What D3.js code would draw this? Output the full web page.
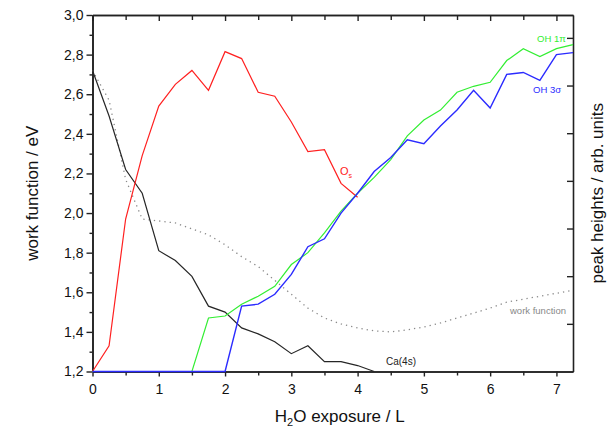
<!DOCTYPE html>
<html>
<head>
<meta charset="utf-8">
<script src="https://cdn.jsdelivr.net/npm/d3@7"></script>
<style>
  html, body { margin: 0; padding: 0; background: #fff; }
  svg { display: block; font-family: "Liberation Sans", Arial, sans-serif; }
</style>
</head>
<body>
<svg id="chart" width="616" height="427"></svg>
<script>
// H2O exposure (Langmuir), sampled every 0.25 L
const exposure = [0, 0.25, 0.5, 0.75, 1, 1.25, 1.5, 1.75, 2, 2.25, 2.5, 2.75, 3, 3.25, 3.5, 3.75,
                  4, 4.25, 4.5, 4.75, 5, 5.25, 5.5, 5.75, 6, 6.25, 6.5, 6.75, 7, 7.25];

// Work function (eV)
const workFunction = [2.72, 2.57, 2.17, 1.97, 1.96, 1.95, 1.92, 1.89, 1.84, 1.78, 1.73, 1.66, 1.59, 1.52, 1.47, 1.44,
                      1.42, 1.405, 1.40, 1.41, 1.425, 1.445, 1.47, 1.495, 1.52, 1.55, 1.565, 1.58, 1.595, 1.61];

// Peak heights, drawn on the same vertical range (baseline = 1.2)
const ca4s = [2.72, 2.49, 2.22, 2.10, 1.81, 1.76, 1.68, 1.53, 1.50, 1.42, 1.39, 1.35, 1.29, 1.33, 1.25, 1.25,
              1.23, 1.20];
const oxygenS = [1.20, 1.33, 1.97, 2.29, 2.54, 2.65, 2.72, 2.62, 2.815, 2.78, 2.61, 2.59, 2.46, 2.31, 2.32, 2.15,
                 2.08];
const oh1pi = [1.2, 1.2, 1.2, 1.2, 1.2, 1.2, 1.2, 1.47, 1.48, 1.54, 1.58, 1.63, 1.74, 1.80, 1.90, 2.01,
               2.10, 2.18, 2.27, 2.39, 2.47, 2.52, 2.61, 2.64, 2.66, 2.77, 2.83, 2.79, 2.83, 2.85];
const oh3sigma = [1.2, 1.2, 1.2, 1.2, 1.2, 1.2, 1.2, 1.2, 1.2, 1.53, 1.54, 1.59, 1.69, 1.83, 1.87, 2.00,
                  2.10, 2.21, 2.28, 2.37, 2.35, 2.44, 2.52, 2.62, 2.53, 2.70, 2.71, 2.67, 2.80, 2.81];

const xTicks = [0, 1, 2, 3, 4, 5, 6, 7];
const yTicks = [1.2, 1.4, 1.6, 1.8, 2.0, 2.2, 2.4, 2.6, 2.8, 3.0];
const rightTicks = [1, 2, 3, 4, 5, 6, 7];

const svg = d3.select("#chart");
const mLeft = 92.5, mRight = 573, mTop = 15, mBottom = 371.5;

const x = d3.scaleLinear().domain([0, 7.25]).range([mLeft, mRight]);
const y = d3.scaleLinear().domain([1.2, 3.0]).range([mBottom, mTop]);
const yRight = d3.scaleLinear().domain([0, 7.48]).range([mBottom, mTop]);

const comma = v => d3.format(".1f")(v).replace(".", ",");

function series(values) {
  return values.map((v, i) => [exposure[i], v]);
}
const line = d3.line().x(d => x(d[0])).y(d => y(d[1]));

// Axes (drawn first so the curves lying on the baseline stay visible)
function styleAxis(g) {
  g.select(".domain").attr("stroke", "#222").attr("stroke-width", 1.6);
  g.selectAll(".tick line").attr("stroke", "#222").attr("stroke-width", 1.4);
  g.selectAll(".tick text").attr("fill", "#111").attr("font-size", 14)
    .attr("font-family", "Liberation Sans, Arial, sans-serif");
}

const minorX = d3.range(0.5, 7.25, 1);
const minorY = d3.range(1.3, 3.0, 0.2);

// bottom
svg.append("g").attr("transform", `translate(0,${mBottom})`)
  .call(d3.axisBottom(x).tickValues(minorX).tickSize(4).tickFormat("").tickSizeOuter(0))
  .call(styleAxis);
svg.append("g").attr("transform", `translate(0,${mBottom})`)
  .call(d3.axisBottom(x).tickValues(xTicks).tickSize(5).tickPadding(8).tickFormat(d3.format("d")).tickSizeOuter(0))
  .call(styleAxis);
// top
svg.append("g").attr("transform", `translate(0,${mTop})`)
  .call(d3.axisTop(x).tickValues(minorX).tickSize(-5).tickFormat("").tickSizeOuter(0))
  .call(styleAxis);
svg.append("g").attr("transform", `translate(0,${mTop})`)
  .call(d3.axisTop(x).tickValues(xTicks).tickSize(-6).tickFormat("").tickSizeOuter(0))
  .call(styleAxis);
// left
svg.append("g").attr("transform", `translate(${mLeft},0)`)
  .call(d3.axisLeft(y).tickValues(minorY).tickSize(3).tickFormat("").tickSizeOuter(0))
  .call(styleAxis);
svg.append("g").attr("transform", `translate(${mLeft},0)`)
  .call(d3.axisLeft(y).tickValues(yTicks).tickSize(6).tickPadding(3).tickFormat(comma).tickSizeOuter(0))
  .call(styleAxis);
// right
svg.append("g").attr("transform", `translate(${mRight},0)`)
  .call(d3.axisRight(yRight).tickValues(rightTicks).tickSize(-6).tickFormat("").tickSizeOuter(0))
  .call(styleAxis);

// Curves
const plot = svg.append("g");
plot.append("path").datum(series(workFunction)).attr("d", line)
  .attr("fill", "none").attr("stroke", "#8a8a8a").attr("stroke-width", 1.3)
  .attr("stroke-dasharray", "1.3,4");
plot.append("path").datum(series(ca4s)).attr("d", line)
  .attr("fill", "none").attr("stroke", "#262626").attr("stroke-width", 1.2);
plot.append("path").datum(series(oxygenS)).attr("d", line)
  .attr("fill", "none").attr("stroke", "#ff2020").attr("stroke-width", 1.2);
plot.append("path").datum(series(oh1pi)).attr("d", line)
  .attr("fill", "none").attr("stroke", "#33ee33").attr("stroke-width", 1.2);
plot.append("path").datum(series(oh3sigma)).attr("d", line)
  .attr("fill", "none").attr("stroke", "#2b2bff").attr("stroke-width", 1.4);

// Axis titles
svg.append("text").attr("transform", `translate(38,${(mTop + mBottom) / 2}) rotate(-90)`)
  .attr("text-anchor", "middle").attr("font-size", 17).attr("fill", "#111")
  .text("work function / eV");
svg.append("text").attr("transform", `translate(603,${(mTop + mBottom) / 2}) rotate(-90)`)
  .attr("text-anchor", "middle").attr("font-size", 17).attr("fill", "#111")
  .text("peak heights / arb. units");
const xt = svg.append("text").attr("x", (mLeft + mRight) / 2 + 7).attr("y", 422)
  .attr("text-anchor", "middle").attr("font-size", 17).attr("fill", "#111");
xt.append("tspan").text("H");
xt.append("tspan").attr("font-size", 11).attr("dy", 4).text("2");
xt.append("tspan").attr("dy", -4).text("O exposure / L");

// Series labels
const os = svg.append("text").attr("x", 340).attr("y", 175).attr("font-size", 11).attr("fill", "#ff2020");
os.append("tspan").text("O");
os.append("tspan").attr("font-size", 7).attr("dy", 3).text("s");

svg.append("text").attr("x", 537).attr("y", 42).attr("font-size", 9.5).attr("fill", "#33ee33").text("OH 1π");
svg.append("text").attr("x", 533).attr("y", 93).attr("font-size", 9.5).attr("fill", "#2b2bff").text("OH 3σ");
svg.append("text").attr("x", 510).attr("y", 314).attr("font-size", 9.5).attr("fill", "#888").text("work function");
svg.append("text").attr("x", 386).attr("y", 365).attr("font-size", 10).attr("fill", "#222").text("Ca(4s)");
</script>
</body>
</html>
